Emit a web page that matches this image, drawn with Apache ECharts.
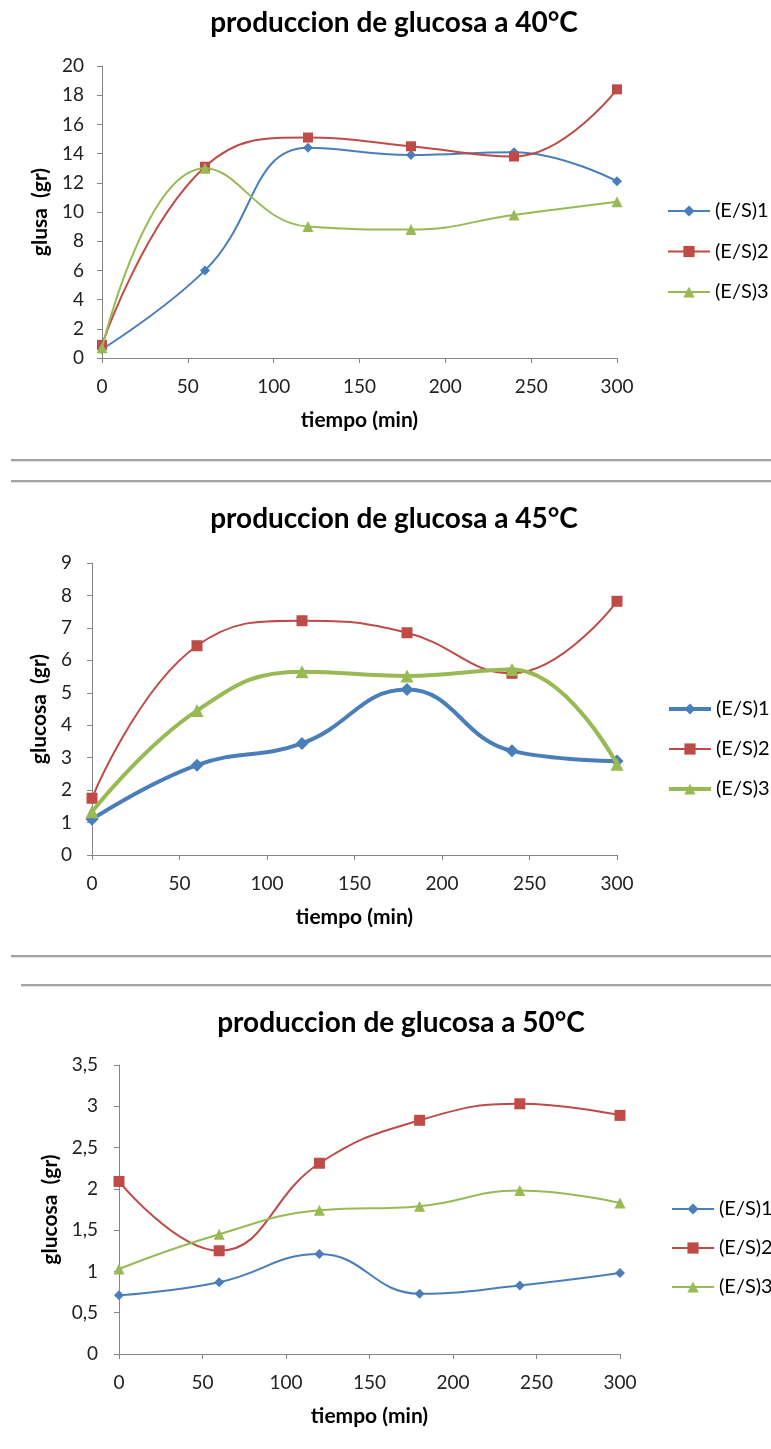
<!DOCTYPE html>
<html><head><meta charset="utf-8">
<script src="https://cdn.jsdelivr.net/npm/echarts@6/dist/echarts.min.js"></script>
<style>
body{margin:0;background:#fff;width:771px;height:1449px;position:relative;overflow:hidden}
.c{position:absolute;left:0;width:771px}
.sep{position:absolute;right:0;height:2px;background:#a3a3a3;border-bottom:1px solid #e0e0e0}
</style></head><body>
<div id="c1" class="c" style="top:0;height:458px"></div>
<div class="sep" style="left:11px;top:459px"></div>
<div class="sep" style="left:11px;top:480px"></div>
<div id="c2" class="c" style="top:483px;height:472px"></div>
<div class="sep" style="left:11px;top:955px"></div>
<div class="sep" style="left:21px;top:984px"></div>
<div id="c3" class="c" style="top:987px;height:462px"></div>
<script>
// ---- data ----
const tiempo = [0, 60, 120, 180, 240, 300];
const seriesNames = ['(E/S)1', '(E/S)2', '(E/S)3'];
const titles = ['produccion de glucosa a 40°C', 'produccion de glucosa a 45°C', 'produccion de glucosa a 50°C'];
const yNames = ['glusa  (gr)', 'glucosa  (gr)', 'glucosa  (gr)'];
const xName = 'tiempo (min)';
const es1_40 = [0.6, 6.0, 14.4, 13.9, 14.1, 12.1];
const es2_40 = [0.9, 13.1, 15.1, 14.5, 13.8, 18.4];
const es3_40 = [0.7, 13.0, 9.0, 8.8, 9.8, 10.7];
const es1_45 = [1.1, 2.77, 3.44, 5.1, 3.21, 2.9];
const es2_45 = [1.75, 6.45, 7.22, 6.85, 5.6, 7.82];
const es3_45 = [1.33, 4.45, 5.65, 5.52, 5.72, 2.8];
const es1_50 = [0.71, 0.87, 1.21, 0.73, 0.83, 0.98];
const es2_50 = [2.09, 1.25, 2.31, 2.83, 3.03, 2.89];
const es3_50 = [1.03, 1.45, 1.74, 1.79, 1.98, 1.83];
const yMax = [20, 9, 3.5];
const yStep = [2, 1, 0.5];
const xMax = 300, xStep = 50;

// ---- styles ----
const colors = ['#4a7ebb', '#be4b48', '#98b954'];
const symbols = ['diamond', 'rect', 'triangle'];
const FONT = 'Lato';
const axisGray = '#868686';

function pairs(vals) { return tiempo.map((t, i) => [t, vals[i]]); }

function build(id, idx, values, L) {
  const chart = echarts.init(document.getElementById(id), null, {renderer: 'canvas'});
  const series = values.map((v, k) => ({
    name: seriesNames[k], type: 'line', smooth: 0.45,
    data: pairs(v), symbol: symbols[k], symbolSize: L.sym[k],
    lineStyle: {color: colors[k], width: L.lw[k]},
    itemStyle: {color: colors[k]}, color: colors[k], z: 3 + k
  }));
  chart.setOption({
    animation: false,
    textStyle: {fontFamily: FONT},
    title: {text: titles[idx], left: L.titleX, top: L.titleY, textAlign: 'center',
      textStyle: {fontFamily: FONT, fontSize: 28, fontWeight: 'bold', color: '#000'}},
    legend: {orient: 'vertical', left: L.legLeft, top: L.legTop, itemWidth: 42, itemHeight: 14,
      itemGap: L.legGap,
      data: seriesNames.map((n, k) => ({name: n, lineStyle: {width: L.lw[k], color: colors[k]}})),
      textStyle: {fontFamily: FONT, fontSize: 20, color: '#000'}},
    grid: {left: L.left, top: L.top, width: L.w, height: L.h},
    xAxis: {type: 'value', min: 0, max: xMax, interval: xStep,
      name: xName, nameLocation: 'middle', nameGap: 52,
      nameTextStyle: {fontFamily: FONT, fontSize: 21, fontWeight: 'bold', color: '#000'},
      axisLine: {lineStyle: {color: axisGray}}, axisTick: {lineStyle: {color: axisGray}, length: 5},
      axisLabel: {fontFamily: FONT, fontSize: 19, color: '#222', margin: 19},
      splitLine: {show: false}},
    yAxis: {type: 'value', min: 0, max: yMax[idx], interval: yStep[idx],
      name: yNames[idx], nameLocation: 'middle', nameGap: L.yNameGap,
      nameTextStyle: {fontFamily: FONT, fontSize: 21, fontWeight: 'bold', color: '#000'},
      axisLine: {show: true, lineStyle: {color: axisGray}}, axisTick: {show: true, lineStyle: {color: axisGray}, length: 5},
      axisLabel: {fontFamily: FONT, fontSize: 19, color: '#222', margin: L.yMargin,
        formatter: v => String(v).replace('.', ',')},
      splitLine: {show: false}},
    series: series
  });
}

build('c1', 0, [es1_40, es2_40, es3_40], {
  left: 102, top: 66, w: 515, h: 292, titleX: 389, titleY: 4,
  legLeft: 662, legTop: 196, legGap: 20.5, yNameGap: 47, yMargin: 18,
  sym: [10, 10, 11], lw: [2, 2, 2]
});
build('c2', 1, [es1_45, es2_45, es3_45], {
  left: 92, top: 80, w: 525, h: 292, titleX: 389, titleY: 17,
  legLeft: 662, legTop: 211, legGap: 20, yNameGap: 33, yMargin: 20,
  sym: [13, 11, 13], lw: [4, 2, 4]
});
build('c3', 2, [es1_50, es2_50, es3_50], {
  left: 119, top: 78, w: 501, h: 289, titleX: 396, titleY: 17,
  legLeft: 666, legTop: 207, legGap: 19, yNameGap: 49, yMargin: 21,
  sym: [10, 11, 11], lw: [2, 2, 2]
});
</script>
</body></html>
